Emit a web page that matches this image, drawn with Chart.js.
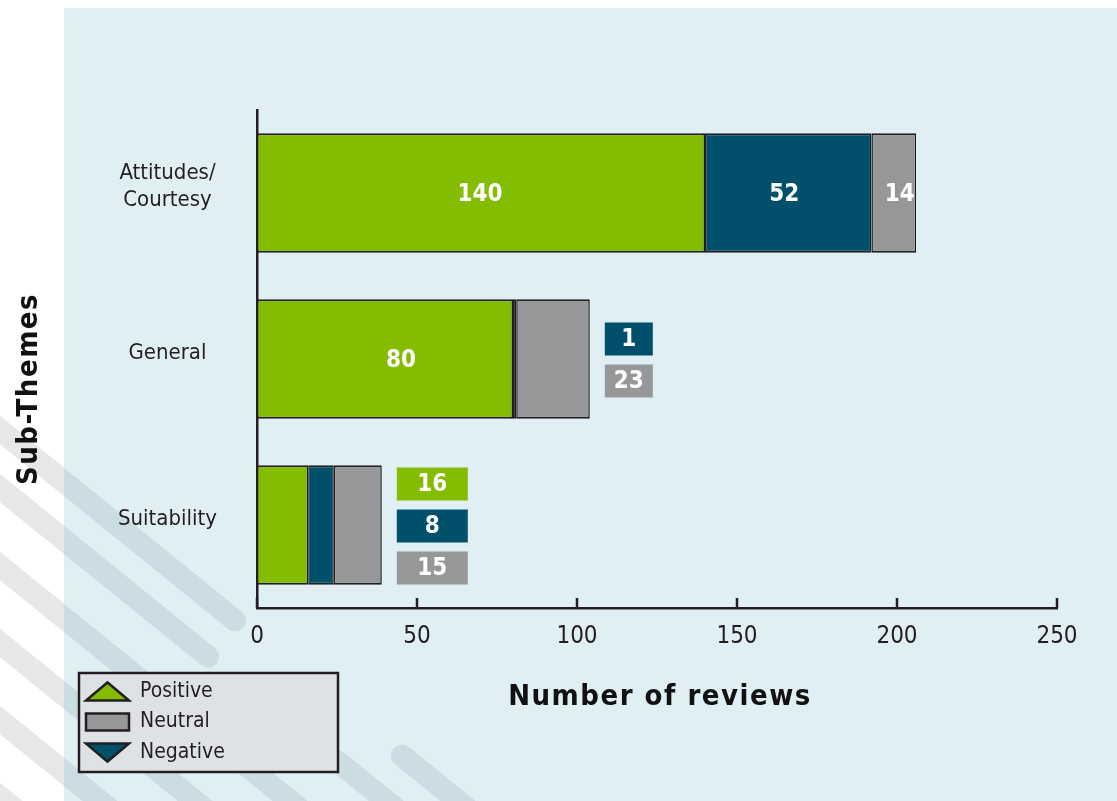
<!DOCTYPE html>
<html>
<head>
<meta charset="utf-8">
<script src="https://cdn.jsdelivr.net/npm/chart.js@4.4.1/dist/chart.umd.min.js"></script>
<style>
  html, body { margin: 0; padding: 0; background: #ffffff; }
  canvas { display: block; }
</style>
</head>
<body>
<canvas id="chart" width="1117" height="801"></canvas>
<script>
// Review counts per sub-theme, split by sentiment
const categories = [['Attitudes/', 'Courtesy'], 'General', 'Suitability'];
const positive = [140, 80, 16];
const negative = [52, 1, 8];
const neutral = [14, 23, 15];
const xTicks = [0, 50, 100, 150, 200, 250];

// Which segments get their value shown in a side box instead of inside the bar
const sideBoxSeries = [[], ['Negative', 'Neutral'], ['Positive', 'Negative', 'Neutral']];
const sideBoxWidths = [48, 48, 71];
// Small horizontal nudges for labels drawn inside segments (per category, per series)
const insideNudge = [[-1, -4, 6], [16, 0, 0], [0, 0, 0]];

const FONT = "'DejaVu Sans Condensed', 'DejaVu Sans', sans-serif";
const COLORS = { Positive: '#84bc00', Negative: '#00506c', Neutral: '#969799' };
const INK = '#231f20';

// Decorative diagonal bands in the lower-left corner
const bands = [
  { y0: 430, segs: [[-40, 235], [402, 700]] },
  { y0: 488, segs: [[-40, 208], [338, 700]] },
  { y0: 566 }, { y0: 643 }, { y0: 720 }, { y0: 797 }
];
const BAND_SLOPE = 0.81;

function strokeBands(ctx, color) {
  ctx.strokeStyle = color;
  ctx.lineWidth = 22;
  ctx.lineCap = 'round';
  bands.forEach(b => {
    (b.segs || [[-40, 1200]]).forEach(([a, e]) => {
      ctx.beginPath();
      ctx.moveTo(a, b.y0 + BAND_SLOPE * a);
      ctx.lineTo(e, b.y0 + BAND_SLOPE * e);
      ctx.stroke();
    });
  });
}

const backdrop = {
  id: 'backdrop',
  beforeDraw(chart) {
    const { ctx, width, height } = chart;
    ctx.save();
    ctx.fillStyle = '#ffffff';
    ctx.fillRect(0, 0, width, height);
    strokeBands(ctx, '#e6e7e8');
    // light blue panel
    ctx.beginPath();
    ctx.rect(64, 8, width - 64, height - 8);
    ctx.fillStyle = '#e0eff4';
    ctx.fill();
    ctx.clip();
    strokeBands(ctx, '#cbdce2');
    ctx.restore();
  }
};

// Tick marks on the value axis pointing up into the plot
const valueTicks = {
  id: 'valueTicks',
  afterDraw(chart) {
    const { ctx, scales: { x }, chartArea } = chart;
    ctx.save();
    ctx.strokeStyle = INK;
    ctx.lineWidth = 2.5;
    xTicks.forEach(v => {
      const px = Math.round(x.getPixelForValue(v));
      ctx.beginPath();
      ctx.moveTo(px, chartArea.bottom);
      ctx.lineTo(px, chartArea.bottom - 10);
      ctx.stroke();
    });
    ctx.restore();
  }
};

// Value labels: inside the segment, or in coloured boxes right of the bar
const valueLabels = {
  id: 'valueLabels',
  afterDatasetsDraw(chart) {
    const ctx = chart.ctx;
    ctx.save();
    ctx.font = `bold 24px ${FONT}`;
    ctx.textAlign = 'center';
    ctx.textBaseline = 'middle';
    chart.data.labels.forEach((_, i) => {
      const side = sideBoxSeries[i];
      const boxed = [];
      let stackEnd = 0, yc = 0;
      chart.data.datasets.forEach((ds, d) => {
        const el = chart.getDatasetMeta(d).data[i];
        const { x, base, y } = el.getProps(['x', 'base', 'y'], true);
        stackEnd = Math.max(stackEnd, x);
        yc = y;
        if (side.includes(ds.label)) {
          boxed.push(ds);
        } else {
          ctx.fillStyle = '#ffffff';
          ctx.fillText(String(ds.data[i]), (x + base) / 2 + insideNudge[i][d], y + 2);
        }
      });
      const h = 33, gap = 9, w = sideBoxWidths[i];
      const total = boxed.length * h + (boxed.length - 1) * gap;
      const top = yc - total / 2 + 1;
      boxed.forEach((ds, k) => {
        const bx = stackEnd + 15;
        const by = top + k * (h + gap);
        ctx.fillStyle = ds.backgroundColor;
        ctx.fillRect(bx, by, w, h);
        ctx.fillStyle = '#ffffff';
        ctx.fillText(String(ds.data[i]), bx + w / 2, by + h / 2 + 1);
      });
    });
    ctx.restore();
  }
};

// Axis titles (letter-spaced bold text)
const axisTitles = {
  id: 'axisTitles',
  afterDraw(chart) {
    const { ctx, chartArea } = chart;
    ctx.save();
    ctx.fillStyle = '#111111';
    ctx.font = `bold 29px ${FONT}`;
    ctx.letterSpacing = '1.5px';
    ctx.textAlign = 'center';
    ctx.textBaseline = 'middle';
    ctx.fillText('Number of reviews', (chartArea.left + chartArea.right) / 2 + 3, 697);
    ctx.translate(29, 389);
    ctx.rotate(-Math.PI / 2);
    ctx.fillText('Sub-Themes', 0, 0);
    ctx.restore();
  }
};

// Legend box with triangle / square markers
const legendOrder = ['Positive', 'Neutral', 'Negative'];
const legendMarks = { Positive: 'up', Neutral: 'square', Negative: 'down' };
const sentimentLegend = {
  id: 'sentimentLegend',
  afterDraw(chart) {
    const ctx = chart.ctx;
    const bx = 79, by = 673, bw = 259, bh = 99;
    ctx.save();
    ctx.fillStyle = '#dee2e4';
    ctx.fillRect(bx, by, bw, bh);
    ctx.strokeStyle = INK;
    ctx.lineWidth = 2.5;
    ctx.strokeRect(bx, by, bw, bh);
    ctx.font = `21px ${FONT}`;
    ctx.textBaseline = 'middle';
    ctx.textAlign = 'left';
    ctx.lineJoin = 'miter';
    legendOrder.forEach((name, k) => {
      const ds = chart.data.datasets.find(s => s.label === name);
      const cy = 691.5 + k * 30.5;
      const x0 = 86, x1 = 129, xm = (x0 + x1) / 2;
      ctx.beginPath();
      if (legendMarks[name] === 'up') {
        ctx.moveTo(x0, cy + 9); ctx.lineTo(x1, cy + 9); ctx.lineTo(xm, cy - 9); ctx.closePath();
      } else if (legendMarks[name] === 'down') {
        ctx.moveTo(x0, cy - 9); ctx.lineTo(x1, cy - 9); ctx.lineTo(xm, cy + 9); ctx.closePath();
      } else {
        ctx.rect(x0, cy - 8.5, x1 - x0, 17);
      }
      ctx.fillStyle = ds.backgroundColor;
      ctx.fill();
      ctx.strokeStyle = INK;
      ctx.stroke();
      ctx.fillStyle = INK;
      ctx.fillText(name, 140, cy);
    });
    ctx.restore();
  }
};

const barStyle = {
  borderColor: INK,
  borderWidth: { top: 2, bottom: 2, left: 1.5, right: 1.5 },
  borderSkipped: false
};

new Chart(document.getElementById('chart'), {
  type: 'bar',
  data: {
    labels: categories,
    datasets: [
      { label: 'Positive', data: positive, backgroundColor: COLORS.Positive, ...barStyle },
      { label: 'Negative', data: negative, backgroundColor: COLORS.Negative, ...barStyle },
      { label: 'Neutral', data: neutral, backgroundColor: COLORS.Neutral, ...barStyle }
    ]
  },
  options: {
    indexAxis: 'y',
    responsive: false,
    devicePixelRatio: 1,
    animation: false,
    layout: { padding: { top: 110, right: 60, bottom: 133, left: 0 } },
    datasets: { bar: { categoryPercentage: 0.9, barPercentage: 0.8 } },
    plugins: { legend: { display: false }, tooltip: { enabled: false } },
    scales: {
      x: {
        stacked: true,
        min: 0,
        max: 250,
        afterFit(scale) { scale.height = 60; },
        afterBuildTicks(scale) { scale.ticks = xTicks.map(v => ({ value: v })); },
        grid: { display: false, drawTicks: false },
        border: { display: true, color: INK, width: 2.5 },
        ticks: { color: INK, padding: 14, font: { family: FONT, size: 24 } }
      },
      y: {
        stacked: true,
        afterFit(scale) { scale.width = 257; },
        grid: { display: false, drawTicks: false },
        border: { display: true, color: INK, width: 2.5 },
        ticks: {
          color: INK,
          padding: 40,
          crossAlign: 'center',
          labelOffset: -6,
          font: { family: FONT, size: 22, lineHeight: 1.25 }
        }
      }
    }
  },
  plugins: [backdrop, valueTicks, valueLabels, axisTitles, sentimentLegend]
});
</script>
</body>
</html>
